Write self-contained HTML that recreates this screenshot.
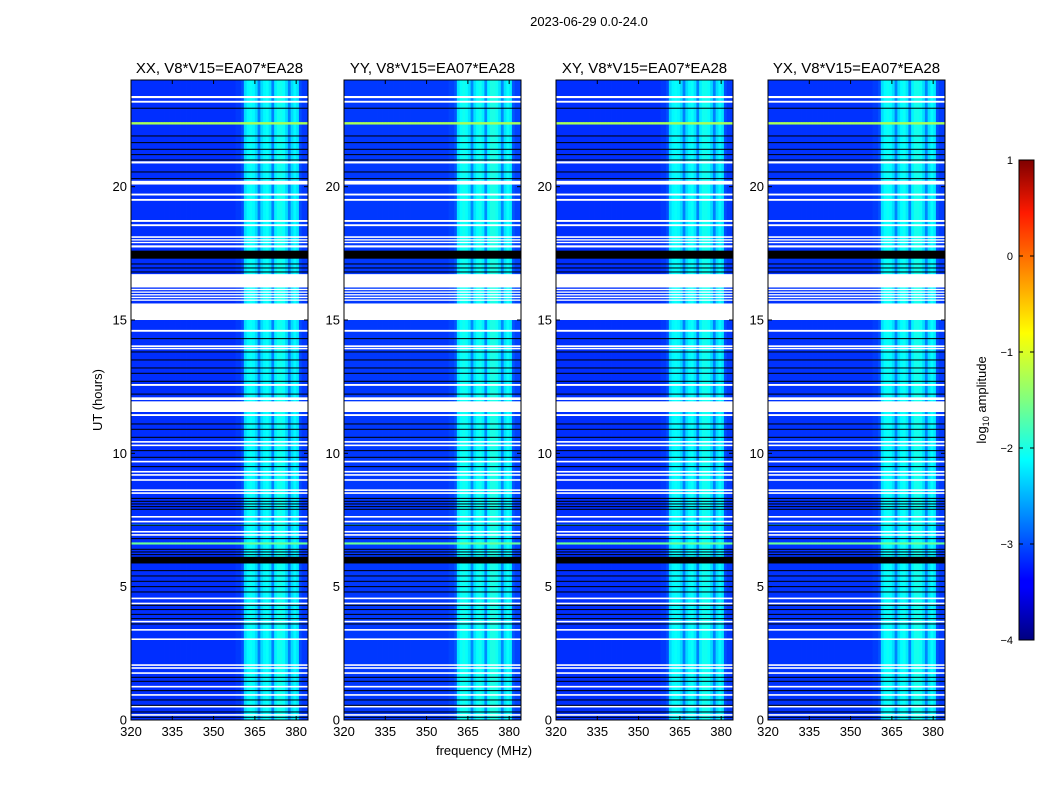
<!DOCTYPE html>
<html><head><meta charset="utf-8">
<style>
body{margin:0;background:#fff;font-family:"Liberation Sans",sans-serif;}
svg text{font-family:"Liberation Sans","DejaVu Sans",sans-serif;}
</style></head>
<body>
<svg id="fig" width="1050" height="800" xmlns="http://www.w3.org/2000/svg">
<text x="589" y="26" font-size="13" text-anchor="middle">2023-06-29 0.0-24.0</text>
<text x="484" y="755" font-size="13" text-anchor="middle">frequency (MHz)</text>
<text x="102" y="400" font-size="13" text-anchor="middle" transform="rotate(-90 102 400)">UT (hours)</text>
<defs><linearGradient id="jet" x1="0" y1="1" x2="0" y2="0">
<stop offset="0" stop-color="#00007f"/><stop offset="0.11" stop-color="#0000ff"/><stop offset="0.125" stop-color="#0000ff"/>
<stop offset="0.34" stop-color="#00dcff"/><stop offset="0.375" stop-color="#00ffff"/><stop offset="0.5" stop-color="#80ff80"/>
<stop offset="0.64" stop-color="#ffff00"/><stop offset="0.89" stop-color="#ff1a00"/><stop offset="1" stop-color="#7f0000"/>
</linearGradient></defs>
<g id="panels"></g>
<g id="cbar">
<rect x="1019" y="160" width="15" height="480" fill="url(#jet)" stroke="#000" stroke-width="1"/>
<text x="0" y="0" font-size="13" text-anchor="middle" transform="translate(986 400) rotate(-90)">log<tspan font-size="9" dy="3">10</tspan><tspan dy="-3"> amplitude</tspan></text>
</g>
</svg>
<script>
// ---- data ----
const panelTitles=["XX, V8*V15=EA07*EA28","YY, V8*V15=EA07*EA28","XY, V8*V15=EA07*EA28","YX, V8*V15=EA07*EA28"];
const freqStart=320, freqStep=1;
// mean log10 amplitude per 1 MHz channel, 320..383 MHz
const channelLevel=[-3.15,-3.15,-3.15,-3.15,-3.15,-3.15,-3.15,-3.15,-3.15,-3.15,
-3.15,-3.15,-3.15,-3.15,-3.15,-3.15,-3.15,-3.15,-3.15,-3.15,
-3.15,-3.15,-3.15,-3.15,-3.15,-3.15,-3.15,-3.15,-3.15,-3.15,
-3.15,-3.15,-3.15,-3.15,-3.15,-3.15,-3.15,-3.15,-3.1,-3.1,
-3.0,-2.3,-2.15,-2.1,-2.15,-2.3,-2.75,-2.3,-2.15,-2.1,
-2.25,-2.75,-2.2,-2.05,-2.05,-2.1,-2.3,-2.75,-2.3,-2.15,
-2.25,-3.0,-3.1,-3.1];
const panelOffset=[0,0.05,0,0.02];
// flagged (white) time ranges, hours [start,end]
const whiteRanges=[[23.32,23.4],[23.15,23.22],[20.87,20.95],[20.08,20.22],[19.67,19.74],[19.47,19.54],[18.68,18.75],[18.52,18.59],
[18.08,18.14],[17.98,18.03],[17.88,17.93],[17.72,17.8],[16.22,16.72],[16.12,16.17],[16.02,16.07],[15.92,15.97],[15.82,15.87],[15.72,15.77],
[15.0,15.62],[14.56,14.63],[13.98,14.05],[13.9,13.95],[12.53,12.6],[12.0,12.1],[11.55,11.95],[11.4,11.47],[10.4,10.46],[10.27,10.33],
[9.66,9.72],[9.28,9.34],[9.16,9.22],[8.97,9.03],[8.59,8.65],[8.48,8.54],[7.59,7.65],[7.41,7.47],[7.03,7.09],[6.91,6.97],[5.97,6.03],
[4.53,4.59],[4.34,4.4],[3.66,3.72],[3.35,3.41],[3.0,3.06],[2.03,2.09],[1.92,1.98],[1.73,1.79],[1.22,1.28],[0.91,0.97],[0.47,0.53],[0.16,0.22]];
// black (zero) time ranges, hours
const blackRanges=[[22.93,22.96],[21.89,21.92],[21.64,21.67],[21.39,21.42],[21.19,21.22],[20.99,21.02],[20.54,20.57],[20.29,20.32],
[17.3,17.6],[17.09,17.12],[16.94,16.97],[16.79,16.82],[14.29,14.32],[13.79,13.82],[13.49,13.52],[13.19,13.22],[12.99,13.02],[12.69,12.72],
[12.21,12.24],[11.09,11.12],[10.89,10.92],[10.59,10.62],[10.09,10.12],[9.84,9.87],[9.49,9.52],[8.29,8.33],[8.19,8.22],[8.09,8.12],[7.99,8.02],
[7.89,7.92],[7.29,7.32],[6.79,6.82],[6.39,6.42],[6.29,6.32],[6.19,6.22],[5.87,6.12],[5.59,5.62],[5.39,5.42],[5.19,5.22],[4.99,5.02],
[4.79,4.82],[4.29,4.32],[4.13,4.16],[3.95,3.98],[3.79,3.82],[3.59,3.62],[1.59,1.62],[1.44,1.47],[1.09,1.12],[0.74,0.77],[0.54,0.57],[0.29,0.32],[0.09,0.12]];
// bright (RFI) rows: [start,end,level]
const brightRows=[[22.33,22.42,-1.6],[6.58,6.66,-1.9],[7.28,7.33,-2.3]];
const yTicks=[0,5,10,15,20];
const xTicks=[320,335,350,365,380];
const cbTicks=[1,0,-1,-2,-3,-4];

// ---- layout ----
const lefts=[131,344,556,768], W=177, plotTop=80, H=640;
const fMin=320, fMax=384.3, tMax=24;
const NS="http://www.w3.org/2000/svg";
function jet(v){const x=Math.max(0,Math.min(1,(v+4)/5));
 const c=t=>Math.round(255*Math.max(0,Math.min(1,1.5-Math.abs(t))));
 return `rgb(${c(4*x-3)},${c(4*x-2)},${c(4*x-1)})`;}
function mk(tag,attrs,parent){const e=document.createElementNS(NS,tag);for(const k in attrs)e.setAttribute(k,attrs[k]);parent.appendChild(e);return e;}
const root=document.getElementById('panels');
lefts.forEach((L,p)=>{
 const xs=f=>L+(f-fMin)/(fMax-fMin)*W;
 const ys=t=>plotTop+H-(t/tMax)*H;
 const g=mk('g',{},root);
 
 
 channelLevel.forEach((v,i)=>{
  const f0=freqStart+i*freqStep, f1=Math.min(fMax,f0+freqStep);
  const r=mk('rect',{x:xs(f0),y:plotTop,width:Math.max(0,xs(f1)-xs(f0))+0.4,height:H,fill:jet(v+panelOffset[p])},g);
  
  
 });
 brightRows.forEach(b=>{
  channelLevel.forEach((v,i)=>{
   const f0=freqStart+i*freqStep,f1=Math.min(fMax,f0+freqStep);
   const r=mk('rect',{x:xs(f0),y:ys(b[1]),width:Math.max(0,xs(f1)-xs(f0))+0.4,height:ys(b[0])-ys(b[1]),fill:jet(Math.max(v,b[2])+0.3)},g);
   
   
  });
 });
 whiteRanges.forEach(w=>{
  const r=mk('rect',{x:L,y:ys(w[1]),width:W,height:Math.max(1,ys(w[0])-ys(w[1])),fill:'#fff'},g);
  
  
 });
 blackRanges.forEach(w=>{
  const r=mk('rect',{x:L,y:ys(w[1]),width:W,height:Math.max(1,ys(w[0])-ys(w[1])),fill:'#000'},g);
  
  
 });
 const fr=mk('rect',{x:L,y:plotTop,width:W,height:H,fill:'none',stroke:'#000','stroke-width':1},g);
 
 
 const t=mk('text',{x:L+W/2,y:plotTop-7,'font-size':15,'text-anchor':'middle'},g);
 t.textContent=panelTitles[p];
 
 
 yTicks.forEach(v=>{
  const y=ys(v);
  mk('line',{x1:L,x2:L+4,y1:y,y2:y,stroke:'#000'},g);
  mk('line',{x1:L+W,x2:L+W-4,y1:y,y2:y,stroke:'#000'},g);
  const tx=mk('text',{x:L-4,y:y+4.5,'font-size':13,'text-anchor':'end'},g);
  tx.textContent=v;
  
  
 });
 xTicks.forEach(v=>{
  const x=xs(v);
  mk('line',{x1:x,x2:x,y1:plotTop+H,y2:plotTop+H-4,stroke:'#000'},g);
  mk('line',{x1:x,x2:x,y1:plotTop,y2:plotTop+4,stroke:'#000'},g);
  const tx=mk('text',{x:x,y:plotTop+H+16,'font-size':13,'text-anchor':'middle'},g);
  tx.textContent=v;
  
  
 });
});
const cb=document.getElementById('cbar');
cbTicks.forEach(v=>{
 const y=160+(1-v)/5*480;
 mk('line',{x1:1019,x2:1023,y1:y,y2:y,stroke:'#000'},cb);
 mk('line',{x1:1034,x2:1030,y1:y,y2:y,stroke:'#000'},cb);
 const tx=mk('text',{x:1013,y:y+4,'font-size':11,'text-anchor':'end'},cb);
 tx.textContent=v<0?'\u2212'+(-v):v;
 
 
});
</script>
</body></html>
